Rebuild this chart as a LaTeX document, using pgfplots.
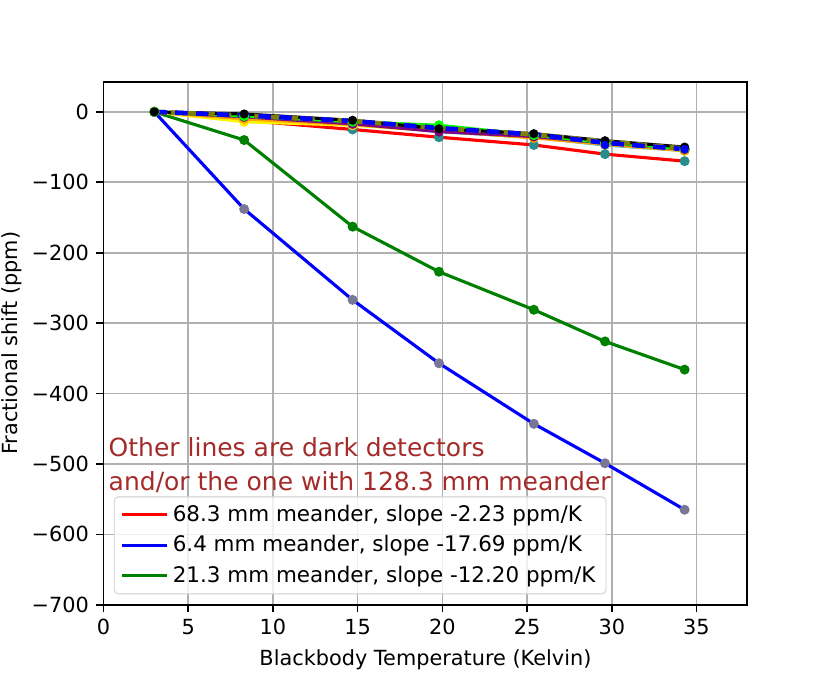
\documentclass[border=0pt]{standalone}
\usepackage{pgfplots}
\pgfplotsset{compat=1.18}
\usepackage{fontspec}
\setmainfont{DejaVu Sans}
\definecolor{mplgreen}{RGB}{0,128,0}
\definecolor{brownc}{RGB}{165,42,42}
\definecolor{tealm}{RGB}{40,140,140}
\definecolor{graym}{RGB}{120,120,150}
\definecolor{olivec}{RGB}{128,128,0}
\definecolor{purplec}{RGB}{128,0,128}
\definecolor{orangec}{RGB}{255,165,0}
\definecolor{limec}{RGB}{0,255,0}
\begin{document}
\begin{tikzpicture}
\begin{axis}[
  scale only axis, width=309pt, height=251pt,
  xmin=0, xmax=38, ymin=-700, ymax=42.6,
  xtick={0,5,...,35},
  ytick={-700,-600,...,0},
  yticklabels={−700,−600,−500,−400,−300,−200,−100,0},
  grid=major, grid style={color=black!31, line width=0.8pt},
  tick pos=left, tick align=outside, major tick length=3.5pt,
  tick style={black, line width=0.8pt},
  axis line style={line width=0.8pt},
  /pgf/number format/assume math mode=true,
  tick label style={font=\fontsize{10}{12}\selectfont},
  label style={font=\fontsize{10}{12}\selectfont},
  xlabel={Blackbody Temperature (Kelvin)},
  ylabel={Fractional shift (ppm)},
  ylabel style={yshift=-2pt},
  legend cell align=left,
  legend style={at={(rel axis cs:0.016,0.02)}, anchor=south west,
    draw=black!20, rounded corners=2pt, fill=white, fill opacity=0.8, text opacity=1,
    font=\fontsize{10.3}{14}\selectfont, inner xsep=3pt, inner ysep=2pt,
    row sep=1.3pt},
  legend image code/.code={\draw[#1,mark=none] (0cm,0cm) -- (21.6pt,0cm);},
]
% main series
\addplot[red, line width=1.5pt, mark=*, mark size=1.6pt, mark options={fill=tealm, draw=tealm}, forget plot]
 coordinates {(3,0) (8.3,-12) (14.7,-25) (19.8,-36) (25.4,-47) (29.6,-60) (34.3,-70)};
\addplot[blue, line width=1.5pt, mark=*, mark size=1.6pt, mark options={fill=graym, draw=graym}, forget plot]
 coordinates {(3,0) (8.3,-138) (14.7,-267) (19.8,-357) (25.4,-443) (29.6,-499) (34.3,-565)};
\addplot[mplgreen, line width=1.5pt, mark=*, mark size=1.6pt, mark options={fill=mplgreen, draw=mplgreen}, forget plot]
 coordinates {(3,0) (8.3,-40) (14.7,-163) (19.8,-227) (25.4,-281) (29.6,-326) (34.3,-366)};
% cluster
\addplot[cyan, line width=1.5pt, mark=*, mark size=1.6pt, mark options={fill=tealm, draw=tealm}, forget plot]
 coordinates {(3,0) (8.3,-7) (14.7,-16) (19.8,-28) (25.4,-36) (29.6,-47) (34.3,-55)};
\addplot[yellow, line width=1.5pt, mark=*, mark size=1.6pt, forget plot]
 coordinates {(3,0) (8.3,-14) (14.7,-19) (19.8,-27) (25.4,-36) (29.6,-46) (34.3,-55)};
\addplot[orangec, line width=1.5pt, mark=*, mark size=1.6pt, forget plot]
 coordinates {(3,0) (8.3,-10) (14.7,-18) (19.8,-27) (25.4,-37) (29.6,-46) (34.3,-55)};
\addplot[purplec, line width=1.5pt, mark=*, mark size=1.6pt, forget plot]
 coordinates {(3,0) (8.3,-7) (14.7,-17) (19.8,-28) (25.4,-35) (29.6,-44) (34.3,-53)};
\addplot[limec, line width=1.5pt, mark=*, mark size=1.6pt, forget plot]
 coordinates {(3,0) (8.3,-6) (14.7,-14) (19.8,-19) (25.4,-33) (29.6,-44) (34.3,-52)};
\addplot[black, line width=1.5pt, mark=*, mark size=1.4pt, forget plot]
 coordinates {(3,0) (8.3,-3) (14.7,-12) (19.8,-24) (25.4,-31) (29.6,-41) (34.3,-50)};
\addplot[olivec, line width=2.2pt, dash pattern=on 5pt off 3pt, forget plot]
 coordinates {(3,0) (8.3,-5) (14.7,-13) (19.8,-23) (25.4,-32) (29.6,-42) (34.3,-52)};
\addplot[blue, line width=2.2pt, dash pattern=on 6pt off 4pt, forget plot]
 coordinates {(3,0) (8.3,-5) (14.7,-13) (19.8,-23) (25.4,-32) (29.6,-44) (34.3,-53)};
\addplot[blue, only marks, mark=*, mark size=1.8pt, forget plot]
 coordinates {(29.6,-47) (34.3,-53)};
\addlegendimage{red, line width=1.5pt}
\addlegendentry{68.3 mm meander, slope -2.23 ppm/K}
\addlegendimage{blue, line width=1.5pt}
\addlegendentry{6.4 mm meander, slope -17.69 ppm/K}
\addlegendimage{mplgreen, line width=1.5pt}
\addlegendentry{21.3 mm meander, slope -12.20 ppm/K}
\node[anchor=base west, inner sep=0pt, text=brownc, font=\fontsize{12}{15}\selectfont] at (axis cs:0.28,-489) {Other lines are dark detectors};
\node[anchor=base west, inner sep=0pt, text=brownc, font=\fontsize{12}{15}\selectfont] at (axis cs:0.28,-537) {and/or the one with 128.3 mm meander};
\end{axis}
\pgfresetboundingbox
\path (-49.7pt,-36.1pt) rectangle (348.7pt,290.3pt);
\end{tikzpicture}
\end{document}
